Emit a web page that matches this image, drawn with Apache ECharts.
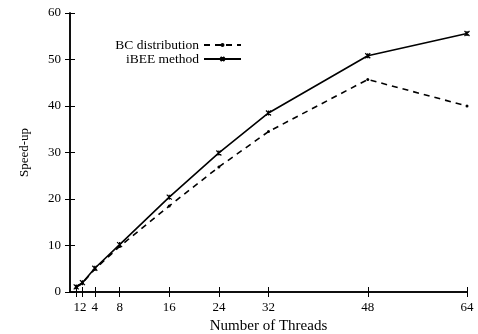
<!DOCTYPE html>
<html><head><meta charset="utf-8">
<script src="https://cdn.jsdelivr.net/npm/echarts@6/dist/echarts.min.js"></script>
<style>html,body{margin:0;padding:0;background:#fff}#c{width:478px;height:334px}</style>
</head><body><div id="c"></div>
<script>
var threads = [1, 2, 4, 8, 16, 24, 32, 48, 64];
var bcDistribution = [1.0, 1.9, 4.9, 9.8, 18.5, 26.9, 34.5, 45.7, 40.0];
var ibeeMethod = [1.1, 2.0, 5.1, 10.2, 20.4, 29.9, 38.5, 50.8, 55.6];
var xTicks = [1, 2, 4, 8, 16, 24, 32, 48, 64];
// "1" and "2" are printed as one joined label "12" under ticks 1 and 2
var xLabelPos = [1.6, 4, 8, 16, 24, 32, 48, 64];
var xLabelText = ['12', '4', '8', '16', '24', '32', '48', '64'];
var yTicks = [0, 10, 20, 30, 40, 50, 60];

var font = 'Liberation Serif';
function pairs(v){ return threads.map(function(t,i){ return [t, v[i]]; }); }
var cross = 'path://M0,0L10,10M10,0L0,10M5,0L5,10';

var chart = echarts.init(document.getElementById('c'), null, {renderer:'canvas'});
var axisLineStyle = {color:'#000', width:1.5};
chart.setOption({
  animation:false,
  backgroundColor:'#fff',
  grid:{left:70, right:11, top:13, bottom:42, outerBoundsMode:'none', containLabel:false},
  legend:{
    orient:'vertical', align:'right', right:236, top:38, padding:0,
    itemWidth:37, itemHeight:5, itemGap:0,
    textStyle:{fontFamily:font, fontSize:13.5, color:'#000', lineHeight:11.5},
    data:['BC distribution','iBEE method']
  },
  xAxis:[{
    type:'value', min:0, max:64, position:'bottom',
    name:'Number of Threads', nameLocation:'middle', nameGap:23,
    nameTextStyle:{fontFamily:font, fontSize:15, color:'#000'},
    axisLine:{show:true, lineStyle:axisLineStyle},
    axisTick:{show:true, inside:true, length:5, customValues:xTicks, lineStyle:{color:'#000'}},
    axisLabel:{customValues:xLabelPos, hideOverlap:false, fontFamily:font, fontSize:13, color:'#000', margin:9,
      formatter:function(v){ var i = xLabelPos.indexOf(v); return i >= 0 ? xLabelText[i] : ''; }},
    splitLine:{show:false}
  },{
    type:'value', min:0, max:64, position:'top',
    axisLine:{show:true, lineStyle:axisLineStyle},
    axisTick:{show:true, inside:true, length:5, customValues:xTicks, lineStyle:{color:'#000'}},
    axisLabel:{show:false},
    splitLine:{show:false}
  }],
  yAxis:[{
    type:'value', min:0, max:60, interval:10, position:'left',
    name:'Speed-up', nameLocation:'middle', nameGap:39, nameRotate:90,
    nameTextStyle:{fontFamily:font, fontSize:13, color:'#000'},
    axisLine:{show:true, lineStyle:axisLineStyle},
    axisTick:{show:true, inside:true, length:5, lineStyle:{color:'#000'}},
    axisLabel:{fontFamily:font, fontSize:13, color:'#000', margin:9},
    splitLine:{show:false}
  },{
    type:'value', min:0, max:60, interval:10, position:'right',
    axisLine:{show:true, lineStyle:axisLineStyle},
    axisTick:{show:true, inside:true, length:5, lineStyle:{color:'#000'}},
    axisLabel:{show:false},
    splitLine:{show:false}
  }],
  series:[{
    name:'BC distribution', type:'line', data:pairs(bcDistribution),
    symbol:'circle', symbolSize:3,
    lineStyle:{color:'#000', width:1.6, type:[6,5]},
    itemStyle:{color:'#000'}
  },{
    name:'iBEE method', type:'line', data:pairs(ibeeMethod),
    symbol:cross, symbolSize:5,
    lineStyle:{color:'#000', width:1.6},
    itemStyle:{color:'#000', borderColor:'#000', borderWidth:1.2}
  }]
});
</script></body></html>
